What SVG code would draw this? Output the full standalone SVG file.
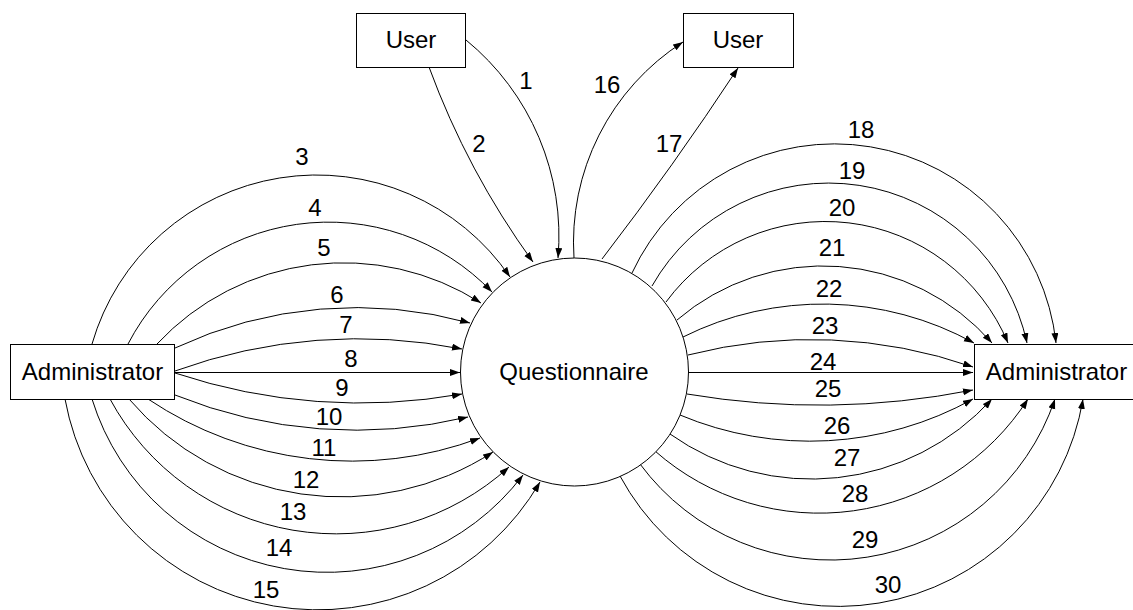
<svg xmlns="http://www.w3.org/2000/svg" width="1133" height="610" viewBox="0 0 1133 610">
  <style>
    .box { fill: #ffffff; stroke: #000000; stroke-width: 1; }
    .txt { font-family: "Liberation Sans", Arial, sans-serif; font-size: 24px; fill: #000000; text-anchor: middle; }
    .edge { fill: none; stroke: #000000; stroke-width: 1; marker-end: url(#arrow); }
  </style>
  <defs>
    <marker id="arrow" markerUnits="userSpaceOnUse" markerWidth="11" markerHeight="8" refX="10" refY="3.5" orient="auto">
      <path d="M0,0 L10,3.5 L0,7 Z" fill="#000000"/>
    </marker>
  </defs>

  <rect width="1133" height="610" fill="#ffffff"/>

  <!-- data flows -->
  <g id="connectors">
    <path class="edge" d="M466,40 A253.5,253.5 0 0 1 558,258"/>
    <path class="edge" d="M429,67 A805,805 0 0 0 533,262"/>
    <path class="edge" d="M92,344 A234,234 0 0 1 510,277"/>
    <path class="edge" d="M128,344 A226,226 0 0 1 492,292"/>
    <path class="edge" d="M157,344 A255,255 0 0 1 481,303"/>
    <path class="edge" d="M175,348 A427,427 0 0 1 470,323"/>
    <path class="edge" d="M175,371 A535,535 0 0 1 462,349"/>
    <path class="edge" d="M175,372.5 L460,372.5"/>
    <path class="edge" d="M175,373 A584,584 0 0 0 462,394"/>
    <path class="edge" d="M175,395 A483,483 0 0 0 468,417"/>
    <path class="edge" d="M148,399 A366,366 0 0 0 480,438"/>
    <path class="edge" d="M129,399 A279,279 0 0 0 493,452"/>
    <path class="edge" d="M110,399 A257,257 0 0 0 509,467"/>
    <path class="edge" d="M92,399 A246,246 0 0 0 523,475"/>
    <path class="edge" d="M65,399 A257,257 0 0 0 540,482"/>
    <path class="edge" d="M574,258 A238,238 0 0 1 683,42"/>
    <path class="edge" d="M602,259 A3190,3190 0 0 0 738,68"/>
    <path class="edge" d="M632,273 A223,223 0 0 1 1056,343"/>
    <path class="edge" d="M652,286 A203,203 0 0 1 1027,343"/>
    <path class="edge" d="M666,302 A198,198 0 0 1 1008,343"/>
    <path class="edge" d="M677,320 A224,224 0 0 1 992,343"/>
    <path class="edge" d="M683,337 A313,313 0 0 1 974,343"/>
    <path class="edge" d="M688,355 A494,494 0 0 1 973,367"/>
    <path class="edge" d="M688,372.5 L973,372.5"/>
    <path class="edge" d="M687,394 A795,795 0 0 0 973,390"/>
    <path class="edge" d="M680,415 A336,336 0 0 0 973,399"/>
    <path class="edge" d="M670,434 A244,244 0 0 0 992,399"/>
    <path class="edge" d="M655,451 A248,248 0 0 0 1028,399"/>
    <path class="edge" d="M640,464 A237,237 0 0 0 1055,399"/>
    <path class="edge" d="M620,476 A248,248 0 0 0 1083,399"/>
  </g>

  <!-- flow numbers -->
  <g id="flow-labels" class="txt">
    <text x="526" y="89">1</text>
    <text x="479" y="152">2</text>
    <text x="302" y="165">3</text>
    <text x="315" y="216">4</text>
    <text x="324" y="256">5</text>
    <text x="337" y="303">6</text>
    <text x="346" y="333">7</text>
    <text x="351" y="367">8</text>
    <text x="342" y="396">9</text>
    <text x="329" y="425">10</text>
    <text x="324" y="456">11</text>
    <text x="306" y="488">12</text>
    <text x="293" y="520">13</text>
    <text x="279" y="556">14</text>
    <text x="266" y="598">15</text>
    <text x="607" y="93">16</text>
    <text x="669" y="152">17</text>
    <text x="861" y="138">18</text>
    <text x="852" y="179">19</text>
    <text x="842" y="216">20</text>
    <text x="832" y="256">21</text>
    <text x="829" y="297">22</text>
    <text x="825" y="334">23</text>
    <text x="823" y="370">24</text>
    <text x="828" y="397">25</text>
    <text x="837" y="434">26</text>
    <text x="847" y="466">27</text>
    <text x="855" y="502">28</text>
    <text x="865" y="548">29</text>
    <text x="888" y="593">30</text>
  </g>

  <g id="user-source">
    <rect class="box" x="356.5" y="13.5" width="109" height="54"/>
    <text class="txt" x="411" y="48">User</text>
  </g>

  <g id="user-sink">
    <rect class="box" x="683.5" y="13.5" width="110" height="54"/>
    <text class="txt" x="738" y="48">User</text>
  </g>

  <g id="admin-source">
    <rect class="box" x="10.5" y="344.5" width="164" height="55"/>
    <text class="txt" x="92.5" y="380">Administrator</text>
  </g>

  <g id="questionnaire">
    <circle class="box" cx="574.5" cy="372" r="114"/>
    <text class="txt" x="574" y="380">Questionnaire</text>
  </g>

  <g id="admin-sink">
    <rect class="box" x="974.5" y="344.5" width="164" height="55"/>
    <text class="txt" x="1056.5" y="380">Administrator</text>
  </g>
</svg>
